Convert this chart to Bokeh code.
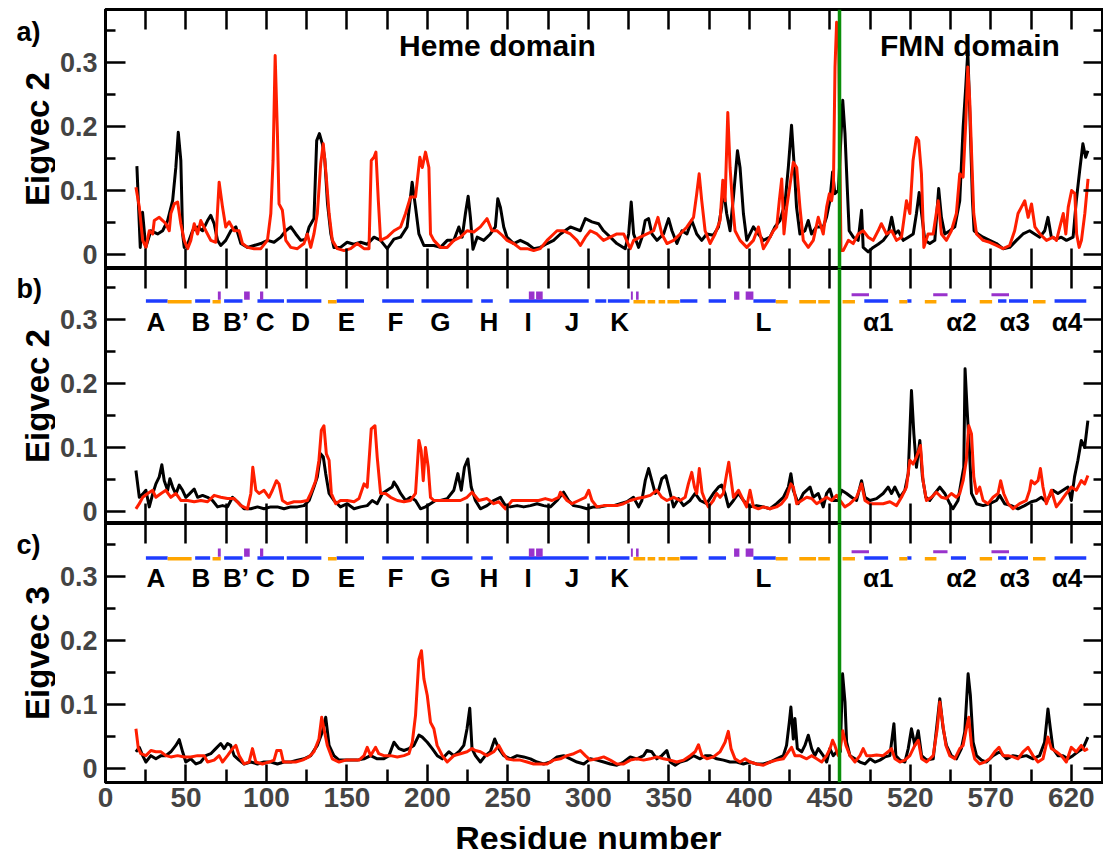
import math
from bokeh.plotting import figure
from bokeh.layouts import column, row
from bokeh.models import FixedTicker, LinearAxis, Span, Range1d
from bokeh.embed import file_html
from bokeh.resources import INLINE
from bokeh.core.properties import value

# ---------------- data ----------------
A_BLACK_X = [19.5,21.6,23,25,28.2,32.4,35.5,38.6,41.7,43.7,45.2,46.8,47.9,48.9,51,54.1,57.2,60.3,63.4,65.4,67.5,69.6,71.6,74.7,77.9,81,84.1,88.2,92.3,96.5,100.6,104.7,108.9,112,115.1,118.2,121.3,124.4,126.5,129.5,131.2,132.9,134.7,136.2,137.9,140,141.9,146,150.1,154.3,158.5,162.6,166.8,170.9,175,179.2,183.3,187.4,190.5,192.6,194.7,197.8,200.9,204,208.1,212.3,216.4,219.5,221.6,223.6,225.3,226.7,228.3,230.9,235,239.1,242.2,243.7,245.3,247.4,249.4,253.6,257.7,261.9,266,270.1,274.3,278.4,282.6,288.8,295,298.1,302.2,306.3,309.4,313.6,317.7,322.9,325,326.6,328.1,331.2,333.3,335.3,337.4,339.5,342.6,346.7,349.8,351.9,355,358.1,361.2,364.2,367.3,370.4,373.5,377.6,380.8,382.8,383.8,385.9,388,390.1,392.6,394.2,396.3,398.4,402.5,405.6,408.7,412.8,415.9,419,422.1,424.2,426.2,427.9,429.3,431.4,434.5,436.6,438.6,441.7,445.9,447.9,450,451.7,453.1,455.3,458,459.4,460.8,462,464.6,467.6,469.7,470.7,473.8,476.9,480,483.2,486.2,488.4,490.4,492.5,495.6,498.7,501.8,503.8,505.5,507,509,512.1,515.2,517.6,519.3,521.4,524.5,527.6,530.7,532.8,534.4,535.7,536.9,538.6,539.6,542.1,545.2,549.3,553.5,557.6,561.7,565.9,570,574.1,577.2,580.4,583.5,585.5,587.6,590.7,593.8,597,601.1,603.1,605.2,607.2,608.9,610.3]
A_BLACK_Y = [.138,.011,.066,.011,.037,.032,.037,.053,.084,.136,.191,.147,.032,.011,.016,.037,.043,.037,.053,.061,.048,.022,.014,.022,.037,.043,.017,.011,.014,.017,.022,.019,.027,.037,.043,.032,.022,.024,.043,.056,.178,.189,.173,.150,.080,.032,.011,.011,.019,.016,.019,.016,.027,.022,.009,.024,.027,.043,.113,.074,.032,.014,.014,.014,.011,.022,.022,.043,.027,.064,.091,.058,.008,.027,.022,.032,.043,.087,.074,.043,.027,.017,.022,.017,.009,.011,.017,.022,.032,.043,.037,.056,.051,.048,.037,.027,.017,.009,.032,.082,.032,.011,.027,.053,.056,.032,.022,.032,.056,.037,.017,.037,.032,.053,.032,.022,.032,.030,.043,.074,.105,.064,.037,.090,.162,.136,.064,.022,.043,.032,.022,.027,.043,.053,.079,.136,.202,.136,.074,.032,.037,.053,.032,.043,.043,.058,.084,.129,.095,.100,.241,.189,.105,.037,.027,.022,.069,.011,.004,.011,.016,.022,.032,.058,.032,.037,.022,.027,.032,.064,.097,.064,.022,.017,.022,.103,.058,.032,.037,.043,.084,.199,.261,.318,.225,.084,.037,.032,.027,.022,.017,.009,.011,.022,.032,.037,.032,.027,.037,.058,.027,.024,.027,.022,.027,.084,.131,.173,.152,.162]

A_RED_X = [18.9,21,23.1,25.1,27.2,29.3,30.3,33.4,35.5,37.5,39.6,40.6,42.7,44.8,46.8,48.9,51,53,55.1,57.2,59.2,62.3,65.4,68.5,70.6,72.7,74.7,76.8,79.9,83,85.1,88.2,92.3,96.5,100.6,102.7,104.1,105.4,106.8,107.8,109.9,112,115.1,119.2,123.3,125.4,127.5,129.5,131.6,133.7,135.3,137,138.9,140.9,144,148.2,152.3,156.4,160.6,163.7,165.1,166.8,168,169.5,170.9,175,179.2,183.3,186.4,189.5,192.6,195.3,196.8,198.8,200.9,201.9,204,208.1,212.3,216.4,220.5,224.6,228.8,232.9,237,240.1,243.3,246.4,249.5,253.6,257.7,261.9,266,270.1,274.3,278.4,280.5,284.6,288.8,292.9,295,298.1,301.2,305.3,309.4,313.6,317.7,321.9,326,328.1,332.2,336.4,340.5,343.2,345.6,348.8,352.9,357,361.2,365.3,367.3,368.8,370.4,372.5,375.6,378.7,381.8,383.5,384.9,386.6,388,389.7,391.1,394.2,398.4,402.5,405.6,408.7,411.8,414.9,417,418.6,420.1,421.5,423.2,425.2,427.3,429.4,431.4,433.5,436.6,439.7,442.8,445.9,448,449.7,451.1,452.2,453.2,454.2,455.4,456.9,458.3,461.5,464.5,467.6,470.7,473.8,476.9,480,482,485.2,488.4,491.4,494.5,497.6,499.7,501.7,503.8,505.2,506.9,508.4,511,514.2,517.3,519.3,522.4,525.5,528.6,530.7,532.8,534.4,535.7,536.9,538.2,539.4,541.1,545.2,549.3,553.5,557.6,561.7,564.8,566.9,569,571.1,573.2,575.3,577.4,580.5,584.6,588.8,590.8,592.9,595,596.6,598.1,600.2,602.2,603.3,604.9,606.3,608.4,610.4]
A_RED_Y = [.105,.074,.022,.011,.037,.032,.053,.058,.053,.048,.037,.064,.079,.082,.048,.022,.009,.022,.048,.032,.053,.037,.022,.019,.113,.074,.043,.051,.037,.037,.017,.011,.009,.009,.022,.064,.147,.311,.189,.079,.069,.022,.011,.009,.017,.032,.011,.032,.064,.142,.173,.126,.064,.022,.009,.006,.009,.017,.009,.009,.147,.152,.160,.084,.022,.027,.037,.043,.064,.090,.090,.152,.136,.160,.136,.032,.022,.011,.011,.022,.027,.037,.035,.043,.056,.037,.037,.030,.022,.017,.009,.009,.006,.009,.022,.032,.037,.037,.032,.022,.014,.027,.037,.032,.022,.027,.032,.032,.009,.022,.027,.032,.037,.058,.032,.017,.022,.032,.043,.058,.095,.126,.084,.037,.017,.032,.053,.116,.084,.222,.136,.074,.037,.022,.011,.022,.043,.009,.022,.037,.043,.084,.118,.032,.074,.108,.144,.136,.074,.022,.011,.022,.058,.032,.074,.095,.084,.105,.293,.363,.350,.006,.006,.022,.017,.032,.037,.027,.022,.037,.048,.032,.037,.022,.027,.084,.064,.147,.183,.178,.126,.011,.032,.032,.084,.032,.022,.037,.064,.126,.121,.204,.293,.241,.147,.064,.032,.022,.019,.014,.009,.014,.037,.064,.074,.084,.058,.079,.043,.032,.022,.027,.022,.043,.064,.032,.074,.100,.095,.032,.011,.022,.064,.118]

B_BLACK_X = [18.9,21,23.1,25.1,27.2,29.3,31.3,33.4,35,36.5,38.6,40,41.7,43.7,45.8,47.9,49.9,52,55.1,57.2,60.3,63.4,66.5,69.6,72.7,75.8,78.9,82,86.1,90.3,94.4,98.5,102.7,106.8,110.9,115.1,119.2,123.3,126.5,129.5,131.6,133.7,135.3,136.8,138.9,141.9,146,150.2,154.4,158.5,162.6,165.7,168.8,172,175,178.1,179.2,181.3,183.3,186.4,189.5,192.6,195.7,198.8,201.9,205,208.1,212.3,216.4,218.9,221,223,225.1,227.2,229.8,232.9,237,241.2,245.3,248.4,251.5,255.7,259.8,264,268.1,272.2,276.4,280.5,284.6,287.7,290.8,295,299.1,303.2,307.4,311.5,315.7,319.8,323.9,328,331.2,333.2,335.3,337.4,339.4,341.5,343.6,345.6,348.1,350.4,352.9,356,359.1,363.2,366.3,369.4,373.5,377.6,380.8,382.8,384.9,387,390.1,393.2,396.3,400.4,404.5,408.7,412.8,416.9,421.1,424.2,425.8,427.3,430.4,433.5,437.7,439.7,442.8,445.9,448,450,452.1,455.2,457.3,460.4,463.5,466.6,469.7,471.8,474.9,479,483.1,486.2,488.3,490.4,493.5,496.6,498.7,500.7,502.2,503.8,505.9,507.5,509.6,512.1,515.2,518.3,521.4,524.5,526.5,529.6,531.7,533.2,534,535.3,536.5,538,541.1,545.2,549.3,553.5,555.5,558.6,562.7,566.9,571,575.2,578.3,581.4,584.5,588.6,591.7,594.8,597.9,600,602,604.1,606.2,608.3,610.3]
B_BLACK_Y = [.064,.022,.027,.033,.007,.027,.043,.054,.073,.048,.033,.051,.038,.027,.041,.033,.022,.027,.035,.022,.025,.022,.017,.007,.009,.007,.022,.015,.004,.004,.007,.004,.007,.007,.004,.007,.007,.009,.017,.038,.054,.090,.085,.059,.028,.017,.007,.012,.004,.007,.009,.017,.012,.028,.033,.038,.046,.038,.028,.017,.022,.017,.004,.007,.012,.017,.017,.020,.033,.059,.033,.069,.082,.038,.017,.004,.009,.017,.022,.009,.007,.009,.007,.009,.012,.009,.007,.017,.030,.017,.009,.007,.004,.007,.007,.009,.009,.012,.015,.022,.007,.017,.048,.067,.048,.028,.033,.051,.056,.033,.007,.020,.009,.017,.028,.017,.012,.028,.038,.041,.028,.007,.017,.028,.017,.007,.009,.007,.004,.012,.022,.038,.059,.033,.012,.028,.038,.022,.028,.007,.028,.035,.017,.017,.033,.028,.022,.017,.048,.022,.017,.020,.028,.038,.028,.038,.022,.033,.059,.189,.121,.069,.111,.054,.022,.017,.028,.038,.028,.012,.004,.017,.048,.069,.223,.158,.106,.028,.012,.009,.012,.017,.025,.012,.009,.004,.009,.015,.017,.022,.015,.033,.028,.033,.038,.017,.054,.080,.111,.100,.142]

B_RED_X = [18.9,21,23.1,26.2,29.3,31.3,34.5,37.5,40.6,43.7,46.8,51,55.1,59.2,63.4,67.5,71.6,75.8,79.9,84.1,88.2,90.3,91.5,93.4,95.4,98.5,101.6,103.7,106.2,107.8,109.9,113,117.1,121.3,125.4,127.5,130.6,132.6,134.1,135.7,137.2,138.9,140.3,143,146,150.2,154.4,157.5,160.6,162.6,165.1,167.4,168.8,170.9,174,177.1,181.3,185.4,189.5,192.6,194.7,196.1,197.4,198.8,200.5,201.9,204,208.1,214.4,220.5,224.6,227.7,231.9,237,241.2,244.3,248.4,252.6,256.7,260.9,264.9,269.1,273.2,277.4,281.5,282.6,286.7,289.8,294,298.1,300.2,302.2,305.3,309.5,313.6,317.7,321.8,326,330.1,334.3,338.4,342.5,345.6,348.8,352.9,357,360.1,362.1,364.2,365.9,367.3,368.9,370.6,372.5,374.5,377.6,379.7,381.8,383.8,385.9,387.2,388.4,390.1,393.2,396.3,398.3,400.4,402.5,405.6,408.7,412.8,416.9,420,423.1,425.8,427.3,429.4,432.5,435.6,438.7,441.8,444.9,448,451.1,454.2,456.3,459.3,462.5,466.6,469.7,471.8,474.9,479,483.1,487.3,491.4,494.5,497.6,499.7,501.7,503.8,506.3,507.9,510,513.1,516.2,519.3,522.4,525.5,528.6,530.7,532.8,534.8,536.3,538,539.4,541.1,543.1,545.2,548.3,551.4,554.5,556.1,558,560.7,563.8,567.9,572,574.1,575.1,577.2,579.3,580.8,582.4,584.5,587.6,590.7,593.8,596.9,600,603.1,606.2,608.3,610.3]
B_RED_Y = [.004,.012,.022,.028,.033,.022,.028,.033,.022,.028,.017,.017,.015,.017,.015,.025,.022,.020,.020,.009,.004,.028,.069,.033,.028,.033,.022,.033,.048,.043,.017,.012,.015,.015,.017,.028,.048,.080,.127,.134,.090,.080,.028,.012,.017,.017,.015,.020,.043,.038,.129,.134,.085,.028,.028,.022,.017,.015,.017,.028,.111,.095,.048,.100,.069,.022,.017,.017,.017,.017,.022,.030,.017,.020,.012,.015,.004,.017,.017,.017,.017,.017,.020,.017,.022,.030,.017,.012,.017,.022,.033,.017,.007,.009,.009,.009,.012,.017,.020,.022,.025,.033,.022,.017,.022,.017,.022,.043,.061,.038,.028,.067,.030,.017,.007,.017,.028,.022,.028,.059,.077,.054,.022,.033,.017,.007,.033,.007,.004,.007,.004,.007,.012,.022,.043,.038,.012,.017,.022,.020,.012,.017,.022,.017,.025,.017,.007,.012,.022,.043,.017,.012,.012,.012,.015,.009,.022,.038,.080,.074,.085,.103,.048,.017,.022,.030,.022,.020,.028,.022,.028,.048,.080,.134,.121,.054,.028,.038,.017,.012,.022,.028,.048,.028,.012,.004,.012,.017,.033,.048,.043,.048,.067,.038,.012,.033,.007,.017,.028,.038,.033,.048,.043,.056]

C_BLACK_X = [18.9,21,23.1,25.1,28.2,31.3,34.5,37.5,40.6,43.7,45.8,47.9,49.9,53,56.2,59.2,62.3,65.4,68.5,71.6,73.7,75.8,77.8,79.9,83,86.1,90.3,94.4,98.5,102.7,106.8,110.9,115.1,119.2,123.3,127.5,131.6,134.7,136.8,138.9,141.9,145.1,148.2,152.3,156.4,160.6,164.7,168.8,172.9,176.1,179.2,182.3,185.4,188.5,191.6,194.7,196.8,199.9,203,206.1,209.2,213.3,216.4,219.5,222.6,224.6,226.3,227.7,229.8,232.9,236,239.1,241.8,244.3,247.4,251.5,255.7,259.8,264,268.1,272.2,276.4,280.5,284.6,288.8,292.9,297.1,301.2,305.3,309.5,313.6,317.7,321.9,326,330.1,334.3,336.3,339.4,342.5,345.6,348.7,350.8,353.9,357,361.2,365.3,369.4,372.5,375.6,379.7,383.9,388,392.1,396.3,400.4,404.5,408.7,412.8,416.9,421.1,423.1,424.8,425.8,427.3,428.3,429.8,432.5,434.5,436.6,438.7,440.7,442.8,445.9,448,450,452.1,454.2,456.5,457.9,459.4,460.4,462.5,465.6,468.7,471.8,474.9,478,481.1,484.2,487.3,489.8,491,493.5,496.6,498.7,500.7,502.8,504.9,507,510.1,514.2,516.7,518.3,520.4,522.4,525.5,528.6,531.7,533.8,535.9,537.3,539,541.1,544.2,547.3,551.4,555.6,559.7,563.8,567.9,572.1,576.2,580.3,583.4,585.5,587,588.6,591.7,594.8,597.9,601,604.1,607.2,610.3]
C_BLACK_Y = [.026,.033,.020,.010,.020,.015,.020,.020,.026,.036,.045,.026,.010,.015,.007,.010,.020,.023,.031,.039,.031,.039,.036,.020,.013,.007,.010,.007,.010,.010,.007,.010,.010,.013,.015,.020,.036,.057,.080,.036,.020,.013,.013,.013,.013,.015,.020,.015,.015,.020,.041,.031,.028,.031,.036,.052,.049,.041,.031,.020,.015,.026,.020,.026,.036,.062,.094,.031,.020,.010,.020,.026,.046,.031,.020,.015,.020,.018,.015,.010,.007,.010,.018,.020,.015,.010,.007,.015,.013,.010,.007,.005,.010,.018,.015,.020,.028,.026,.015,.020,.028,.010,.005,.010,.013,.020,.015,.020,.020,.015,.013,.010,.010,.007,.010,.007,.007,.010,.015,.020,.036,.072,.096,.046,.078,.031,.026,.036,.052,.031,.020,.031,.020,.010,.031,.020,.026,.026,.148,.104,.041,.020,.015,.010,.007,.015,.010,.013,.018,.020,.070,.020,.013,.010,.031,.062,.036,.059,.020,.013,.015,.072,.109,.062,.036,.020,.015,.031,.057,.148,.114,.041,.020,.013,.010,.020,.026,.015,.020,.018,.020,.015,.020,.041,.093,.062,.031,.020,.020,.015,.020,.026,.031,.049]

C_RED_X = [18.9,20.4,22,25.1,28.2,31.3,34.5,37.5,40.6,44.8,48.9,53,57.2,61.3,63.4,67.5,70.6,72.7,75.8,78.9,81,83,86.1,89.2,91.3,93.4,97.5,101.6,104.7,106.4,108.9,110.5,114,118.1,122.3,126.4,129.5,132.6,134.3,135.7,137.8,140.9,145.1,149.2,153.3,157.5,160.6,162.6,164.7,167.8,169.8,172.9,177.1,181.3,185.4,188.5,190.6,192.6,194.7,196.3,197.8,199.9,201.9,204,206,209.2,212.3,216.4,220.5,224.6,227.7,229.8,232.9,237,241.2,244.3,246.4,249.5,253.6,257.7,261.9,266,270.1,274.3,278.4,282.6,286.7,290.9,295,298.1,301.2,305.3,309.5,313.6,317.7,321.9,326,330.1,334.3,338.4,342.5,346.7,350.8,354.9,359.1,363.2,366.3,368.4,370.5,373.6,377.7,381.8,384.9,386.9,388.6,391.1,394.2,397.3,400.4,404.5,408.7,412.8,416.9,421.1,424.2,426.2,428.3,431.4,435.6,438.7,441.8,444.9,448,450.1,451.7,453.1,455.2,456.5,458,460,462.5,465.6,468.7,470.7,472.8,475.9,479,483.1,486.2,488.3,490.4,493.5,496.6,499.7,502.8,504.9,507,510.1,514.2,516.7,518.3,520,522.1,524.5,527.6,530.7,532.8,534.8,536.3,538,540,543.1,546.2,549.3,552.4,555.1,557.6,560.7,563.8,566.9,570,573.1,576.2,579.3,582.4,585.5,587.6,590.7,593.8,596.9,600,603.1,606.2,608.3,610.3]
C_RED_Y = [.062,.031,.023,.020,.028,.026,.026,.020,.018,.020,.018,.018,.020,.020,.010,.013,.020,.010,.020,.031,.036,.020,.007,.010,.031,.010,.007,.010,.013,.028,.028,.010,.010,.010,.013,.018,.026,.046,.080,.062,.036,.015,.010,.013,.013,.013,.020,.033,.020,.033,.023,.020,.020,.018,.020,.023,.041,.083,.171,.184,.140,.114,.072,.062,.036,.020,.010,.020,.023,.026,.031,.028,.026,.020,.026,.036,.026,.015,.013,.013,.010,.007,.007,.007,.013,.015,.020,.023,.028,.020,.013,.015,.018,.013,.007,.007,.013,.015,.013,.015,.018,.015,.013,.010,.013,.020,.026,.037,.020,.015,.018,.026,.041,.058,.031,.015,.010,.015,.010,.007,.005,.010,.013,.015,.026,.033,.020,.020,.015,.020,.015,.010,.020,.031,.044,.036,.020,.031,.059,.036,.020,.010,.020,.031,.020,.020,.021,.020,.026,.031,.015,.010,.013,.020,.036,.044,.015,.010,.020,.062,.104,.072,.036,.020,.015,.031,.036,.062,.080,.036,.015,.007,.010,.015,.026,.033,.020,.020,.018,.015,.026,.033,.020,.010,.015,.049,.031,.026,.020,.010,.033,.026,.036,.028,.031]

# secondary structure (residue index ranges)
HELIX_START = [25.1,55.7,73.7,94.4,112.6,143.6,171.9,196.3,233.4,250.9,304.3,312.1,357,374.7,402.5,471.4,498.1,525.2,554.5,561.3,589.6]
HELIX_END = [38.6,65.0,85.1,110.9,134.1,160.6,191.6,228,240.6,300.2,311.1,325.5,367.7,385.5,416.4,486.2,500.7,534.6,559.7,573.1,609.3]
STRAND_START = [38.6,66.5,138.2,328,336.8,343.6,349.1,416.4,431,442.8,457.9,493.1,509,543.1,576.2]
STRAND_END = [53.5,71.6,143.6,335.3,341.5,347.7,356.6,423.8,441.4,450,465.6,498.1,516.2,550.8,584]
TURN_START = [69.8,86.1,96,263,267.5,326.4,329.6,390.5,397.7]
TURN_END = [71.6,89.6,98,266.5,271.6,327.6,331.2,393.8,402.5]
BRIDGE_START = [463.5,514.2,550.4]
BRIDGE_END = [474.3,523.1,561.3]
SS_LABELS = ["A","B","B\u2019","C","D","E","F","G","H","I","J","K","L","\u03b11","\u03b12","\u03b13","\u03b14"]
SS_LABEL_X = [31.3,59.2,81,99.2,121.3,149.6,180.2,208.1,238.1,262.5,289.8,319.4,408.7,480,531.8,564.8,597.3]

X_TICKS = [0,50,100,150,200,250,300,350,400,450,500,550,600]
X_TICK_LABELS = ["0","50","100","150","200","250","300","350","400","450","520","570","620"]
Y_TICKS = [0, 0.1, 0.2, 0.3]
Y_TICK_LABELS = ["0", "0.1", "0.2", "0.3"]
DOMAIN_BORDER = 456
PANEL_TAGS = ["a)", "b)", "c)"]
PANEL_YLABELS = ["Eigvec 2", "Eigvec 2", "Eigvec 3"]

# ---------------- style ----------------
FONT = "Liberation Sans"
RED = "#ff1e00"
GREEN = "#0a8f0a"
BLUE = "#1e3cff"
ORANGE = "#ffa500"
PURPLE = "#9932cc"
X_RANGE = Range1d(0, 620)
LEFT_W = 55          # width of the strip holding the panel tags / y titles


def style_axis(ax, tick_len, minor_len=0, labels=False, size="27px", standoff=7):
    ax.axis_line_width = 3
    ax.axis_line_color = "black"
    ax.major_tick_in = tick_len
    ax.major_tick_out = 0
    ax.major_tick_line_width = 2.5
    ax.minor_tick_in = minor_len
    ax.minor_tick_out = 0
    ax.minor_tick_line_width = 2.5
    if labels:
        ax.major_label_text_font = FONT
        ax.major_label_text_font_style = "bold"
        ax.major_label_text_font_size = size
        ax.major_label_standoff = standoff
    else:
        ax.major_label_text_font_size = "0px"
        ax.major_label_text_color = None
        ax.major_label_standoff = 0


def blank(p):
    p.grid.visible = False
    p.outline_line_color = None
    p.background_fill_color = "white"
    p.border_fill_color = "white"


def make_panel(y0, y1, fh, top, bottom, bx, by, rx, ry, ss=False, xlabels=False):
    p = figure(frame_width=998, frame_height=fh, x_range=X_RANGE, y_range=Range1d(y0, y1),
               output_backend="svg", toolbar_location=None,
               x_axis_location=None, y_axis_location=None,
               min_border_left=105 - LEFT_W, min_border_right=0,
               min_border_top=top, min_border_bottom=bottom)
    blank(p)
    p.outline_line_color = "black"
    p.outline_line_width = 3

    yl = LinearAxis(ticker=FixedTicker(ticks=Y_TICKS, minor_ticks=[0.05, 0.15, 0.25, 0.35]))
    style_axis(yl, 20, 10, labels=True, size="27px", standoff=8)
    yl.major_label_overrides = dict(zip(Y_TICKS, Y_TICK_LABELS))
    p.add_layout(yl, "left")

    yr = LinearAxis(ticker=FixedTicker(ticks=Y_TICKS, minor_ticks=[0.05, 0.15, 0.25, 0.35]))
    style_axis(yr, 20, 10)
    p.add_layout(yr, "right")

    x25 = list(range(0, 625, 25))
    xa = LinearAxis(ticker=FixedTicker(ticks=x25))
    style_axis(xa, 20)
    p.add_layout(xa, "above")

    if xlabels:
        xb = LinearAxis(ticker=FixedTicker(ticks=X_TICKS, minor_ticks=list(range(25, 625, 50))))
        style_axis(xb, 18, 13, labels=True, size="28px", standoff=5)
        xb.major_label_overrides = dict(zip(X_TICKS, X_TICK_LABELS))
    else:
        xb = LinearAxis(ticker=FixedTicker(ticks=x25))
        style_axis(xb, 20)
    p.add_layout(xb, "below")

    if ss:
        p.segment(x0=HELIX_START, x1=HELIX_END, y0=0.329, y1=0.329,
                  line_color=BLUE, line_width=3.5, line_cap="butt")
        p.segment(x0=STRAND_START, x1=STRAND_END, y0=0.328, y1=0.328,
                  line_color=ORANGE, line_width=3.5, line_cap="butt")
        p.quad(left=TURN_START, right=TURN_END, bottom=0.331, top=0.344,
               fill_color=PURPLE, line_color=None)
        p.segment(x0=BRIDGE_START, x1=BRIDGE_END, y0=0.339, y1=0.339,
                  line_color=PURPLE, line_width=3, line_cap="butt")
        p.text(x=SS_LABEL_X, y=0.297, text=SS_LABELS, text_font=value(FONT),
               text_font_style="bold", text_font_size="26px", text_align="center",
               text_baseline="alphabetic", text_color="black")

    p.line(bx, by, line_color="black", line_width=3, line_join="round")
    p.line(rx, ry, line_color=RED, line_width=3, line_join="round")
    p.add_layout(Span(location=DOMAIN_BORDER, dimension="height",
                      line_color=GREEN, line_width=3.5))
    return p


pa = make_panel(-0.022, 0.383, 259, 9, 0, A_BLACK_X, A_BLACK_Y, A_RED_X, A_RED_Y)
pa.text(x=[243.5, 537], y=[0.327, 0.327], text=["Heme domain", "FMN domain"],
        text_font=value(FONT), text_font_style="bold", text_font_size="30px",
        text_align="center", text_baseline="alphabetic", text_color="black")
pb = make_panel(-0.019, 0.380, 255, 0, 0, B_BLACK_X, B_BLACK_Y, B_RED_X, B_RED_Y, ss=True)
pc = make_panel(-0.022, 0.383, 259, 0, 40, C_BLACK_X, C_BLACK_Y, C_RED_X, C_RED_Y,
                ss=True, xlabels=True)

# strip under the bottom panel with the x-axis title
strip = figure(frame_width=998, frame_height=27, x_range=X_RANGE, y_range=Range1d(0, 27),
               output_backend="svg", toolbar_location=None,
               x_axis_location=None, y_axis_location=None,
               min_border_left=105 - LEFT_W, min_border_right=0,
               min_border_top=0, min_border_bottom=0)
blank(strip)
strip.text(x=[300], y=[12], text=["Residue number"], text_font=value(FONT),
           text_font_style="bold", text_font_size="34px", text_align="center",
           text_baseline="alphabetic", text_color="black")

# strip on the left with the panel tags and the y-axis titles (pixel coordinates)
left = figure(width=LEFT_W, height=849, x_range=Range1d(0, LEFT_W), y_range=Range1d(849, 0),
              output_backend="svg", toolbar_location=None,
              x_axis_location=None, y_axis_location=None, min_border=0)
blank(left)
left.text(x=[16, 16, 16], y=[31, 288, 544], text=PANEL_TAGS, text_font=value(FONT),
          text_font_style="bold", text_font_size="27px", text_align="left",
          text_baseline="middle", text_color="black")
left.text(x=[37, 37, 37], y=[138.5, 395.5, 652.5], text=PANEL_YLABELS, angle=math.pi / 2,
          text_font=value(FONT), text_font_style="bold", text_font_size="33px",
          text_align="center", text_baseline="alphabetic", text_color="black")

layout = row(left, column(pa, pb, pc, strip, spacing=0), spacing=0)
open("out.html", "w").write(file_html(layout, INLINE))
